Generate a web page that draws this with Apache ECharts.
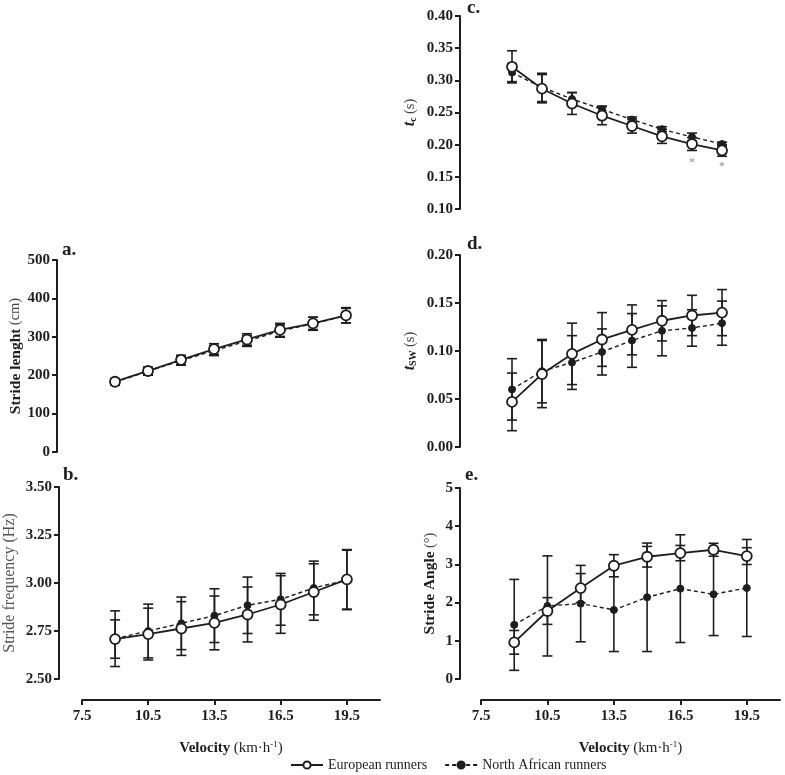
<!DOCTYPE html>
<html>
<head>
<meta charset="utf-8">
<script src="https://cdn.jsdelivr.net/npm/echarts@6/dist/echarts.min.js"></script>
<style>html,body{margin:0;padding:0;background:#fff;}#c{width:785px;height:775px;}</style>
</head>
<body>
<div id="c"></div>
<script>
// ---- data ----
const velocity = [9, 10.5, 12, 13.5, 15, 16.5, 18, 19.5];
const xTicks = [7.5, 10.5, 13.5, 16.5, 19.5];

// a. stride length (cm)
const lenEU   = [183, 211, 240, 268, 293, 318, 335, 356];
const lenEUsd = [8, 10, 12, 14, 15, 17, 16, 20];
const lenNA   = [182, 210, 238, 264, 289, 315, 334, 355];
const lenNAsd = [8, 10, 12, 13, 14, 16, 17, 19];

// b. stride frequency (Hz)
const freqEU   = [2.708, 2.734, 2.763, 2.792, 2.836, 2.888, 2.953, 3.019];
const freqEUsd = [0.10, 0.135, 0.14, 0.14, 0.143, 0.15, 0.147, 0.155];
const freqNA   = [2.71, 2.75, 2.79, 2.83, 2.884, 2.915, 2.974, 3.016];
const freqNAsd = [0.145, 0.14, 0.137, 0.14, 0.147, 0.135, 0.14, 0.155];

// c. contact time (s)
const tcEU   = [0.321, 0.287, 0.264, 0.245, 0.229, 0.213, 0.201, 0.191];
const tcEUsd = [0.025, 0.022, 0.017, 0.014, 0.011, 0.011, 0.010, 0.009];
const tcNA   = [0.312, 0.289, 0.271, 0.255, 0.239, 0.224, 0.212, 0.201];
const tcNAsd = [0.014, 0.022, 0.010, 0.005, 0.004, 0.004, 0.006, 0.003];
const sigX = [18, 19.5];
const sigY = [0.171, 0.165];

// d. swing time (s)
const tswEU   = [0.047, 0.076, 0.097, 0.112, 0.122, 0.1315, 0.137, 0.140];
const tswEUsd = [0.030, 0.035, 0.032, 0.028, 0.026, 0.021, 0.021, 0.024];
const tswNA   = [0.060, 0.079, 0.088, 0.099, 0.111, 0.121, 0.124, 0.129];
const tswNAsd = [0.032, 0.033, 0.028, 0.024, 0.028, 0.026, 0.019, 0.023];

// e. stride angle (deg)
const angEU   = [0.96, 1.78, 2.38, 2.965, 3.2, 3.296, 3.383, 3.217];
const angEUsd = [0.31, 0.35, 0.38, 0.29, 0.27, 0.20, 0.17, 0.22];
const angNA   = [1.417, 1.913, 1.974, 1.809, 2.139, 2.365, 2.217, 2.383];
const angNAsd = [1.19, 1.31, 1.00, 1.09, 1.42, 1.41, 1.08, 1.27];

const EU = 'European runners';
const NA = 'North African runners';

// ---- styling ----
const FONT = '"Liberation Serif", "Times New Roman", serif';
const INK = '#1e1e1e';

const panels = [
  {eu: lenEU, eusd: lenEUsd, na: lenNA, nasd: lenNAsd,
   grid: {left: 82, top: 260, width: 297, height: 192}, yoff: 25,
   y: {min: 0, max: 500, interval: 100, dec: 0},
   name: '{b|Stride lenght} {n|(cm)}', gap: 33, showX: false},
  {eu: freqEU, eusd: freqEUsd, na: freqNA, nasd: freqNAsd,
   grid: {left: 82, top: 487, width: 298, height: 192}, yoff: 23,
   y: {min: 2.5, max: 3.5, interval: 0.25, dec: 2},
   name: '{g|Stride frequency (Hz)}', gap: 41, showX: true},
  {eu: tcEU, eusd: tcEUsd, na: tcNA, nasd: tcNAsd,
   grid: {left: 482, top: 16, width: 270, height: 193}, yoff: 22,
   y: {min: 0.1, max: 0.4, interval: 0.05, dec: 2},
   name: '{t|t}{s|c} {n|(s)}', gap: 42, showX: false},
  {eu: tswEU, eusd: tswEUsd, na: tswNA, nasd: tswNAsd,
   grid: {left: 482, top: 255, width: 270, height: 192}, yoff: 22,
   y: {min: 0, max: 0.2, interval: 0.05, dec: 2},
   name: '{t|t}{s|SW} {n|(s)}', gap: 42, showX: false},
  {eu: angEU, eusd: angEUsd, na: angNA, nasd: angNAsd,
   grid: {left: 481, top: 488, width: 299, height: 191}, yoff: 21,
   y: {min: 0, max: 5, interval: 1, dec: 0},
   name: '{b|Stride Angle} {n|(°)}', gap: 22, showX: true}
];

const nameRich = {
  b: {fontFamily: FONT, fontWeight: 'bold', fontSize: 15.5, color: INK},
  n: {fontFamily: FONT, fontSize: 14.5, color: '#444'},
  g: {fontFamily: FONT, fontSize: 16, color: '#555'},
  t: {fontFamily: FONT, fontWeight: 'bold', fontStyle: 'italic', fontSize: 16, color: INK},
  s: {fontFamily: FONT, fontWeight: 'bold', fontSize: 10, color: INK, verticalAlign: 'bottom', padding: [6, 0, 0, 0]}
};
const xNameRich = {
  b: {fontFamily: FONT, fontWeight: 'bold', fontSize: 15, color: INK},
  n: {fontFamily: FONT, fontSize: 15, color: INK},
  sup: {fontFamily: FONT, fontSize: 9, color: INK, verticalAlign: 'top', padding: [0, 0, 8, 0]}
};

function errorBar(params, api) {
  const x = api.value(0), lo = api.value(1), hi = api.value(2);
  const a = api.coord([x, hi]);
  const b = api.coord([x, lo]);
  const hw = 5;
  const st = {stroke: INK, lineWidth: 1.6};
  return {type: 'group', children: [
    {type: 'line', shape: {x1: a[0], y1: a[1], x2: b[0], y2: b[1]}, style: st},
    {type: 'line', shape: {x1: a[0] - hw, y1: a[1], x2: a[0] + hw, y2: a[1]}, style: st},
    {type: 'line', shape: {x1: b[0] - hw, y1: b[1], x2: b[0] + hw, y2: b[1]}, style: st}
  ]};
}

const grids = [], xAxes = [], yAxes = [], series = [];
panels.forEach((p, i) => {
  grids.push(Object.assign({outerBoundsMode: 'none', containLabel: false}, p.grid));
  xAxes.push({
    type: 'value', gridIndex: i, min: 7.5, max: 21, show: p.showX,
    offset: 21,
    axisLine: {show: true, onZero: false, lineStyle: {color: INK, width: 2}},
    axisTick: {show: true, customValues: xTicks, length: 5, lineStyle: {color: INK, width: 2}},
    axisLabel: {show: true, customValues: xTicks, margin: 9, fontFamily: FONT, fontWeight: 'bold', fontSize: 15, color: INK,
      formatter: v => v.toFixed(1)},
    splitLine: {show: false},
    name: '{b|Velocity} {n|(km·h}{sup|-1}{n|)}', nameLocation: 'middle', nameGap: 40,
    nameTextStyle: {rich: xNameRich}
  });
  yAxes.push({
    type: 'value', gridIndex: i, min: p.y.min, max: p.y.max, interval: p.y.interval,
    offset: p.yoff,
    axisLine: {show: true, onZero: false, lineStyle: {color: INK, width: 2}},
    axisTick: {show: true, length: 5, lineStyle: {color: INK, width: 2}},
    axisLabel: {margin: 7, fontFamily: FONT, fontWeight: 'bold', fontSize: 15, color: INK,
      formatter: v => v.toFixed(p.y.dec)},
    splitLine: {show: false},
    name: p.name, nameLocation: 'middle', nameGap: p.gap, nameRotate: 90,
    nameTextStyle: {rich: nameRich}
  });
  const mk = (m, sd) => velocity.map((v, k) => [v, m[k] - sd[k], m[k] + sd[k]]);
  series.push({
    type: 'custom', name: 'sd-na-' + i, xAxisIndex: i, yAxisIndex: i, z: 1,
    renderItem: errorBar, encode: {x: 0, y: [1, 2]}, data: mk(p.na, p.nasd), silent: true
  });
  series.push({
    type: 'custom', name: 'sd-eu-' + i, xAxisIndex: i, yAxisIndex: i, z: 1,
    renderItem: errorBar, encode: {x: 0, y: [1, 2]}, data: mk(p.eu, p.eusd), silent: true
  });
  series.push({
    type: 'line', name: NA, xAxisIndex: i, yAxisIndex: i, z: 3,
    data: velocity.map((v, k) => [v, p.na[k]]),
    symbol: 'circle', symbolSize: 7,
    itemStyle: {color: INK, borderColor: INK, borderWidth: 1},
    lineStyle: {color: INK, width: 1.4, type: [4, 3]},
    animation: false
  });
  series.push({
    type: 'line', name: EU, xAxisIndex: i, yAxisIndex: i, z: 4,
    data: velocity.map((v, k) => [v, p.eu[k]]),
    symbol: 'circle', symbolSize: 10,
    itemStyle: {color: '#fff', borderColor: INK, borderWidth: 1.8},
    lineStyle: {color: INK, width: 1.8, type: 'solid'},
    animation: false
  });
});

// significance marks in panel c
series.push({
  type: 'scatter', name: 'sig', xAxisIndex: 2, yAxisIndex: 2, z: 5,
  data: sigX.map((x, k) => [x, sigY[k]]), symbolSize: 0,
  label: {show: true, formatter: '*', position: 'inside', fontFamily: FONT, fontSize: 12, color: '#777'},
  silent: true, animation: false
});

const letter = (txt, left, top) => ({text: txt, left: left, top: top,
  textStyle: {fontFamily: FONT, fontWeight: 'bold', fontSize: 19, color: INK}, padding: 0});

const option = {
  backgroundColor: '#fff',
  animation: false,
  title: [
    letter('a.', 62, 241),
    letter('b.', 63, 466),
    letter('c.', 467, -1),
    letter('d.', 467, 235),
    letter('e.', 465, 466)
  ],
  legend: {
    data: [EU, NA], left: 290, top: 758, itemWidth: 32, itemHeight: 9, itemGap: 17,
    textStyle: {fontFamily: FONT, fontSize: 14, color: INK}, padding: 0
  },
  grid: grids,
  xAxis: xAxes,
  yAxis: yAxes,
  series: series
};

const chart = echarts.init(document.getElementById('c'), null, {renderer: 'canvas'});
chart.setOption(option);
</script>
</body>
</html>
